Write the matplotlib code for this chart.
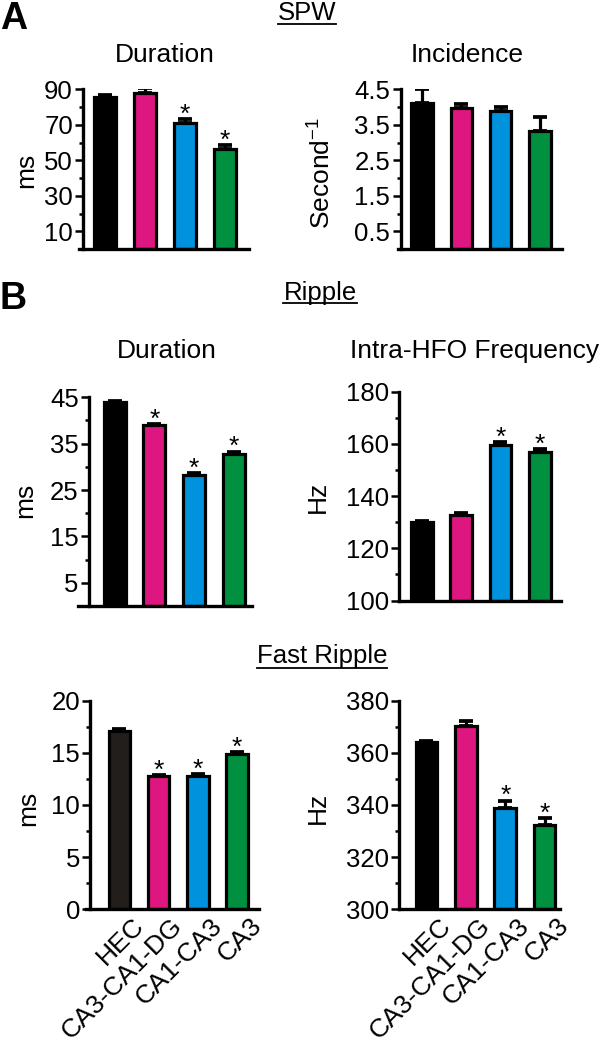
import matplotlib
matplotlib.use('Agg')
import matplotlib.pyplot as plt
from matplotlib.lines import Line2D
from matplotlib.transforms import ScaledTranslation
import numpy as np

plt.rcParams['font.family'] = ['Liberation Sans', 'DejaVu Sans']
plt.rcParams['mathtext.fontset'] = 'custom'
plt.rcParams['mathtext.rm'] = 'Liberation Sans'

# ---------------- data ----------------
groups = ['HEC', 'CA3-CA1-DG', 'CA1-CA3', 'CA3']
colors = ['#000000', '#de167f', '#0092dc', '#00903f']
colors_fr = ['#221e1b', '#de167f', '#0092dc', '#00903f']

spw_dur = [85.5, 87.7, 71.2, 56.3]
spw_dur_err = [1.3, 2.9, 2.2, 2.1]
spw_dur_sig = [False, False, True, True]

spw_inc = [4.10, 3.97, 3.90, 3.33]
spw_inc_err = [0.40, 0.11, 0.09, 0.40]
spw_inc_sig = [False, False, False, False]

rip_dur = [44.0, 39.0, 28.3, 32.8]
rip_dur_err = [0.15, 0.25, 0.3, 0.5]
rip_dur_sig = [False, True, True, True]

rip_freq = [130.0, 132.7, 159.7, 156.9]
rip_freq_err = [0.3, 0.8, 1.1, 1.1]
rip_freq_sig = [False, False, True, True]

fr_dur = [17.12, 12.81, 12.81, 14.89]
fr_dur_err = [0.16, 0.05, 0.13, 0.21]
fr_dur_sig = [False, True, True, True]

fr_freq = [364.0, 370.3, 339.0, 332.3]
fr_freq_err = [0.7, 2.0, 2.7, 2.8]
fr_freq_sig = [False, False, True, True]

# ---------------- figure ----------------
W, H = 603, 1050
fig = plt.figure(figsize=(W / 100, H / 100), dpi=100)

TICK_FS = 18.5
XL_FS = 19
LW = 2.4


def make_ax(rect_px, xlim, spine_x, ylim, major, minor, vals, errs, sig, cols,
            xlabels=False):
    l, r, b, t = rect_px
    ax = fig.add_axes([l / W, 1 - b / H, (r - l) / W, (b - t) / H])
    x = np.arange(len(vals))
    base = ylim[0]
    ax.bar(x, np.array(vals) - base, bottom=base, width=0.55, color=cols,
           edgecolor='black', linewidth=2.3, zorder=2)
    ax.errorbar(x, vals, yerr=[np.zeros(len(errs)), errs], fmt='none',
                ecolor='black', elinewidth=2.3, capsize=4.8, capthick=2.7,
                zorder=3)
    for xi, v, e, s in zip(x, vals, errs, sig):
        if s:
            ax.annotate('*', (xi, v + e), xytext=(0, -2),
                        textcoords='offset points', ha='center',
                        va='baseline', fontsize=19)
    ax.set_xlim(*xlim)
    ax.set_ylim(*ylim)
    for s in ['top', 'right']:
        ax.spines[s].set_visible(False)
    ax.spines['left'].set_position(('data', spine_x))
    ax.spines['left'].set_linewidth(LW)
    ax.spines['bottom'].set_linewidth(LW)
    ax.set_yticks(major)
    ax.set_yticks(minor, minor=True)
    ax.tick_params(axis='y', which='major', length=6, width=1.8,
                   labelsize=TICK_FS, pad=1.5)
    ax.tick_params(axis='y', which='minor', length=3, width=1.8)
    ax.patch.set_visible(False)
    if xlabels:
        ax.set_xticks(x)
        ax.set_xticklabels(groups, rotation=45, ha='right', va='top',
                           rotation_mode='anchor', fontsize=XL_FS)
        ax.tick_params(axis='x', length=0, pad=3)
        off = ScaledTranslation(0.12, 0, fig.dpi_scale_trans)
        for lab in ax.get_xticklabels():
            lab.set_transform(lab.get_transform() + off)
    else:
        ax.set_xticks([])
    return ax


def fmt_int(ax):
    ax.set_yticklabels([f'{v:g}' for v in ax.get_yticks()])


axA1 = make_ax((79, 249.3, 249, 89.3), (-0.64, 3.61), -0.53, (0, 90),
               [10, 30, 50, 70, 90], [20, 40, 60, 80],
               spw_dur, spw_dur_err, spw_dur_sig, colors)
axA2 = make_ax((398.3, 561.7, 249, 89.3), (-0.61, 3.56), -0.55, (0, 4.5),
               [0.5, 1.5, 2.5, 3.5, 4.5], [1, 2, 3, 4],
               spw_inc, spw_inc_err, spw_inc_sig, colors)
axB1 = make_ax((77.7, 252.3, 606, 397.3), (-0.93, 3.47), -0.64, (0, 45),
               [5, 15, 25, 35, 45], [10, 20, 30, 40],
               rip_dur, rip_dur_err, rip_dur_sig, colors)
axB2 = make_ax((399.3, 561.4, 600.5, 391.7), (-0.57, 3.55), -0.57, (100, 180),
               [100, 120, 140, 160, 180], [110, 130, 150, 170],
               rip_freq, rip_freq_err, rip_freq_sig, colors)
axC1 = make_ax((86, 259.3, 909.3, 700.7), (-0.85, 3.57), -0.74, (0, 20),
               [0, 5, 10, 15, 20], [2.5, 7.5, 12.5, 17.5],
               fr_dur, fr_dur_err, fr_dur_sig, colors_fr, xlabels=True)
axC2 = make_ax((399.3, 560, 909.3, 700.7), (-0.69, 3.39), -0.69, (300, 380),
               [300, 320, 340, 360, 380], [310, 330, 350, 370],
               fr_freq, fr_freq_err, fr_freq_sig, colors, xlabels=True)
for a in [axA1, axB1, axB2, axC1, axC2]:
    fmt_int(a)
axA2.set_yticklabels([f'{v:.1f}' for v in axA2.get_yticks()])


def ftext(x, y, s, **kw):
    return fig.text(x / W, 1 - y / H, s, **kw)


# panel letters
ftext(0, 29, 'A', fontsize=27, fontweight='bold', va='baseline')
ftext(0, 309, 'B', fontsize=27, fontweight='bold', va='baseline')

# section headers (underlined)
HF = 18.5
headers = [ftext(307, 20, 'SPW', fontsize=HF, ha='center', va='baseline'),
           ftext(320, 300, 'Ripple', fontsize=HF, ha='center', va='baseline'),
           ftext(322, 663, 'Fast Ripple', fontsize=HF, ha='center',
                 va='baseline')]
underline_y = [23.5, 303, 667.5]

# panel titles
TF = 19
ftext(165, 62, 'Duration', fontsize=TF, ha='center', va='baseline')
ftext(467, 62, 'Incidence', fontsize=TF, ha='center', va='baseline')
ftext(167, 358, 'Duration', fontsize=TF, ha='center', va='baseline')
ftext(475, 358, 'Intra-HFO Frequency', fontsize=TF, ha='center',
      va='baseline')

# y labels
YL = 19
ftext(26, 170, 'ms', fontsize=YL, rotation=90, ha='center', va='center')
ftext(322, 173, r'$\mathregular{Second^{-1}}$', fontsize=YL, rotation=90,
      ha='center', va='center')
ftext(25, 500, 'ms', fontsize=YL, rotation=90, ha='center', va='center')
ftext(318, 497, 'Hz', fontsize=YL, rotation=90, ha='center', va='center')
ftext(28, 808, 'ms', fontsize=YL, rotation=90, ha='center', va='center')
ftext(318, 808, 'Hz', fontsize=YL, rotation=90, ha='center', va='center')

fig.canvas.draw()
renderer = fig.canvas.get_renderer()
for t, uy in zip(headers, underline_y):
    bb = t.get_window_extent(renderer)
    fig.add_artist(Line2D([bb.x0 / W, bb.x1 / W], [1 - uy / H, 1 - uy / H],
                          transform=fig.transFigure, color='black',
                          linewidth=1.3))

fig.savefig('out.png', dpi=100)
